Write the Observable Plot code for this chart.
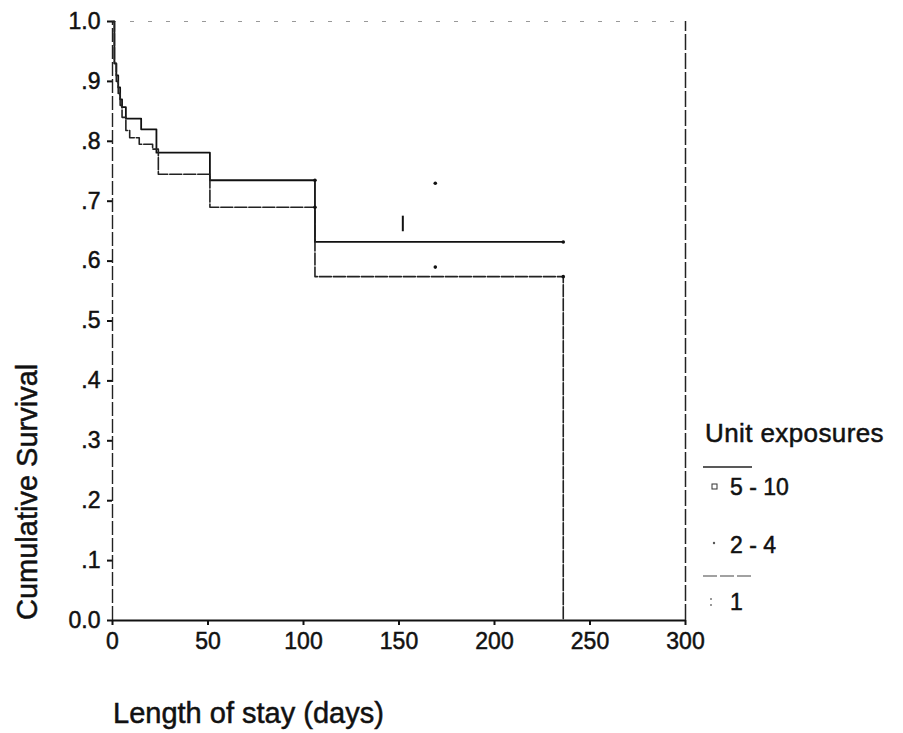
<!DOCTYPE html>
<html>
<head>
<meta charset="utf-8">
<script src="https://cdn.jsdelivr.net/npm/d3@7"></script>
<script src="https://cdn.jsdelivr.net/npm/@observablehq/plot@0.6"></script>
<style>
  html, body { margin: 0; padding: 0; background: #fff; }
  #wrap { position: relative; width: 903px; height: 733px; overflow: hidden; }
  #wrap > svg { position: absolute; left: 0; top: 0; }
  [aria-label="y-axis tick"] path, [aria-label="x-axis tick"] path { stroke-width: 2px; }
  [aria-label="y-axis tick label"] text, [aria-label="x-axis tick label"] text,
  #wrap svg text { stroke: #111; stroke-width: 0.5px; paint-order: stroke; }
</style>
</head>
<body>
<div id="wrap"></div>
<script>
// ---- data ----
const xTicks = [0, 50, 100, 150, 200, 250, 300];
const yTicks = [0, 0.1, 0.2, 0.3, 0.4, 0.5, 0.6, 0.7, 0.8, 0.9, 1.0];
const yTickLabels = ["0.0", ".1", ".2", ".3", ".4", ".5", ".6", ".7", ".8", ".9", "1.0"];

// Unit exposures 5 - 10
const days510 = [0, 1, 2, 3, 4, 5, 7, 15, 23, 51, 106, 236];
const surv510 = [1.0, 0.93, 0.91, 0.89, 0.87, 0.857, 0.838, 0.82, 0.781, 0.735, 0.632, 0.632];
// Unit exposures 2 - 4
const days24 = [0, 1, 2, 3, 4, 5, 7, 9, 14, 21, 24, 51, 106, 236, 236];
const surv24 = [1.0, 0.93, 0.90, 0.88, 0.86, 0.84, 0.818, 0.806, 0.795, 0.787, 0.745, 0.69, 0.574, 0.574, 0.0];

// censoring marks
const censorDays = [106, 106, 169, 169, 236, 236];
const censorSurv = [0.735, 0.69, 0.73, 0.59, 0.632, 0.574];
const tickMarkDays = [152];
const tickMarkSurv = [0.662];

const legendTitle = "Unit exposures";
const legendLabels = ["5 - 10", "2 - 4", "1"];
const xTitle = "Length of stay (days)";
const yTitle = "Cumulative Survival";

// ---- build tables ----
const s510 = days510.map((d, i) => ({day: d, surv: surv510[i]}));
const s24 = days24.map((d, i) => ({day: d, surv: surv24[i]}));
const censors = censorDays.map((d, i) => ({day: d, surv: censorSurv[i]}));
const tmarks = tickMarkDays.map((d, i) => ({day: d, surv: tickMarkSurv[i]}));

const FONT = "'Liberation Sans', Arial, Helvetica, sans-serif";

const chart = Plot.plot({
  width: 903,
  height: 733,
  marginLeft: 112,
  marginRight: 218,
  marginTop: 21,
  marginBottom: 113,
  style: {fontFamily: FONT, fontSize: "23px", color: "#111", background: "transparent"},
  x: {type: "linear", domain: [0, 300], ticks: xTicks, tickSize: 5, tickPadding: 7, label: null},
  y: {type: "linear", domain: [0, 1], ticks: yTicks, tickSize: 5, tickPadding: 7, label: null,
      tickFormat: d => yTickLabels[yTicks.findIndex(t => Math.abs(t - d) < 1e-9)]},
  marks: [
    // frame
    Plot.ruleY([1], {x1: 0, x2: 300, stroke: "#999", strokeWidth: 1.2, strokeDasharray: "4 14"}),
    Plot.ruleX([300], {y1: 0, y2: 1, stroke: "#222", strokeWidth: 1.5, strokeDasharray: "16 3"}),
    Plot.ruleX([0], {y1: 0, y2: 1, stroke: "#222", strokeWidth: 1.4, strokeDasharray: "14 3"}),
    Plot.ruleY([0], {x1: 0, x2: 300, stroke: "#111", strokeWidth: 1.8}),
    // curves
    Plot.line(s510, {x: "day", y: "surv", curve: "step-after", stroke: "#111", strokeWidth: 1.8}),
    Plot.line(s24, {x: "day", y: "surv", curve: "step-after", stroke: "#222", strokeWidth: 1.6, strokeDasharray: "12 2"}),
    Plot.dot(censors, {x: "day", y: "surv", r: 1.8, fill: "#111", stroke: "none"}),
    Plot.ruleX(tmarks, {x: "day", y1: d => d.surv - 0.013, y2: d => d.surv + 0.013, stroke: "#111", strokeWidth: 2}),
  ]
});
document.getElementById("wrap").appendChild(chart);

// ---- titles and legend (outside the plotting frame) ----
const ov = d3.select("#wrap").append("svg")
  .attr("width", 903).attr("height", 733)
  .style("pointer-events", "none")
  .style("font-family", FONT).style("fill", "#111");

ov.append("text").attr("x", 113).attr("y", 723)
  .style("font-size", "29px").text(xTitle);
ov.append("text").attr("transform", "translate(37,620) rotate(-90)")
  .style("font-size", "29px").text(yTitle);

ov.append("text").attr("x", 705).attr("y", 442)
  .style("font-size", "26px").style("letter-spacing", "0.4px").text(legendTitle);

// entries
ov.append("line").attr("x1", 703).attr("x2", 752).attr("y1", 467).attr("y2", 467)
  .attr("stroke", "#222").attr("stroke-width", 1.5);
ov.append("rect").attr("x", 712).attr("y", 484).attr("width", 5).attr("height", 5)
  .attr("fill", "none").attr("stroke", "#333").attr("stroke-width", 1);
ov.append("circle").attr("cx", 714).attr("cy", 543).attr("r", 1.2).attr("fill", "#555");
ov.append("line").attr("x1", 703).attr("x2", 752).attr("y1", 576).attr("y2", 576)
  .attr("stroke", "#444").attr("stroke-width", 1.2).attr("stroke-dasharray", "14 3");
ov.append("circle").attr("cx", 711).attr("cy", 599).attr("r", 1).attr("fill", "#777");
ov.append("circle").attr("cx", 711).attr("cy", 605).attr("r", 1).attr("fill", "#777");

const entryY = [495, 553, 610];
legendLabels.forEach((lab, i) => {
  ov.append("text").attr("x", 730).attr("y", entryY[i])
    .style("font-size", "23px").text(lab);
});
</script>
</body>
</html>
